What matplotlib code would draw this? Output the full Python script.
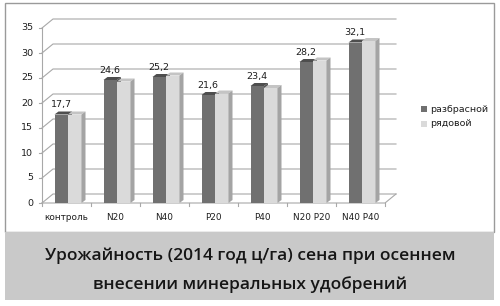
import matplotlib
matplotlib.use("Agg")
import matplotlib.pyplot as plt
from matplotlib.patches import Polygon, Rectangle

categories = ["контроль", "N20", "N40", "P20", "P40", "N20 P20", "N40 P40"]
razbrasnoy = [17.7, 24.6, 25.2, 21.6, 23.4, 28.2, 32.1]
ryadovoy = [17.7, 24.3, 25.5, 21.9, 23.0, 28.5, 32.4]
series_names = ["разбрасной", "рядовой"]
y_ticks = [0, 5, 10, 15, 20, 25, 30, 35]
title_lines = ["Урожайность (2014 год ц/га) сена при осеннем",
               "внесении минеральных удобрений"]

W, H = 500, 306
fig = plt.figure(figsize=(W / 100, H / 100), dpi=100)

# overlay in pixel coordinates (origin top-left)
ov = fig.add_axes([0, 0, 1, 1])
ov.set_xlim(0, W)
ov.set_ylim(H, 0)
ov.axis("off")
ov.add_patch(Rectangle((5, 3), 489, 229, facecolor="white", edgecolor="#9a9a9a", lw=1.0))
ov.add_patch(Rectangle((5, 232), 489, 68, facecolor="#c9c9c9", edgecolor="none"))
for k, line in enumerate(title_lines):
    ov.text(250, 256 + 29 * k, line, ha="center", va="center", fontsize=12.5,
            color="#161616", family="Open Sans", fontweight="semibold")

# main chart axes
x0p, x1p, y0p, y1p = 42, 385, 203, 28
ax = fig.add_axes([x0p / W, (H - y0p) / H, (x1p - x0p) / W, (y0p - y1p) / H])
n = len(categories)
ax.set_xlim(-0.5, n - 0.5)
ax.set_ylim(0, 35)
ax.axis("off")

upx = n / (x1p - x0p)          # data units per pixel (x)
vpx = 35 / (y0p - y1p)         # data units per pixel (y)
dx, dy = 11 * upx, 9 * vpx     # wall depth
grid_c = "#a8a8a8"
txt_c = "#1e1e1e"

for v in y_ticks:
    ax.plot([-0.5, -0.5 + dx, n - 0.5 + dx], [v, v + dy, v + dy],
            color=grid_c, lw=0.8, clip_on=False, zorder=1)
    ax.plot([-0.5 - 3 * upx, -0.5], [v, v], color=grid_c, lw=0.8, clip_on=False)
    ax.text(-0.5 - 9 * upx, v, str(v), ha="right", va="center", fontsize=6.8,
            color=txt_c)
# left axis line, floor front & right edge
ax.plot([-0.5, -0.5], [0, 35], color=grid_c, lw=0.8, clip_on=False)
ax.plot([-0.5, n - 0.5, n - 0.5 + dx], [0, 0, dy], color=grid_c, lw=0.8, clip_on=False)
for k in range(n + 1):
    ax.plot([k - 0.5, k - 0.5], [0, -3 * vpx], color=grid_c, lw=0.8, clip_on=False)

bw = 13.5 * upx
tdx, tdy = 4 * upx, 3 * vpx
dark_front, dark_top = "#707070", "#4e4e4e"
light_front, light_top, light_side = "#dadada", "#c4c4c4", "#a4a4a4"

for i, (a, b) in enumerate(zip(razbrasnoy, ryadovoy)):
    c = i + 1.5 * upx
    # dark bar
    ax.add_patch(Rectangle((c - bw, 0), bw, a, facecolor=dark_front, edgecolor="none", zorder=3))
    ax.add_patch(Polygon([(c - bw, a), (c - bw + tdx, a + tdy), (c + tdx, a + tdy), (c, a)],
                         closed=True, facecolor=dark_top, edgecolor="none", zorder=3))
    ax.add_patch(Polygon([(c, 0), (c + tdx, tdy), (c + tdx, a + tdy), (c, a)],
                         closed=True, facecolor="#555555", edgecolor="none", zorder=2.9))
    # light bar
    ax.add_patch(Rectangle((c, 0), bw, b, facecolor=light_front, edgecolor="none", zorder=4))
    ax.add_patch(Polygon([(c, b), (c + tdx, b + tdy), (c + bw + tdx, b + tdy), (c + bw, b)],
                         closed=True, facecolor=light_top, edgecolor="none", zorder=4))
    ax.add_patch(Polygon([(c + bw, 0), (c + bw + tdx, tdy), (c + bw + tdx, b + tdy), (c + bw, b)],
                         closed=True, facecolor=light_side, edgecolor="none", zorder=4))
    ax.text(c - bw / 2, a + tdy + 2 * vpx, f"{a:.1f}".replace(".", ","), ha="center",
            va="bottom", fontsize=6.8, color=txt_c, zorder=5)
    ax.text(i, -15 * vpx, categories[i], ha="center", va="center", fontsize=6.4,
            color=txt_c)

# legend
for j, (name, col) in enumerate(zip(series_names, [dark_front, light_front])):
    yy = 109 + j * 15
    ov.add_patch(Rectangle((421, yy - 3), 6, 6, facecolor=col, edgecolor="none"))
    ov.text(430, yy, name, ha="left", va="center", fontsize=6.8, color=txt_c)

fig.savefig("out.png", dpi=100)
